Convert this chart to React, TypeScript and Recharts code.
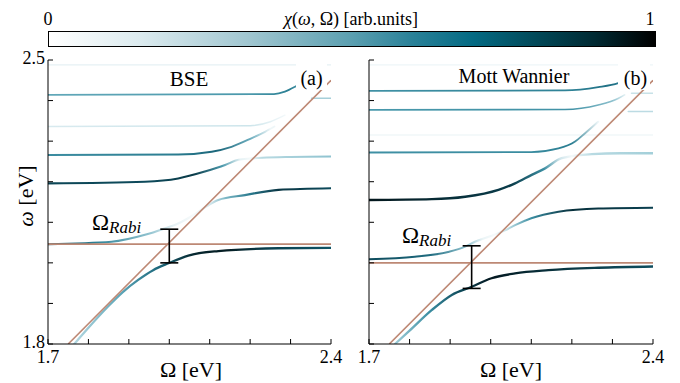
import React from 'react';
import { ComposedChart, Line, XAxis, YAxis, Scatter, ErrorBar } from 'recharts';

// Ω [eV] on x, ω [eV] on y
const X_TICKS = [1.7, 1.8, 1.9, 2.0, 2.1, 2.2, 2.3, 2.4];
const Y_TICKS = [1.8, 1.9, 2.0, 2.1, 2.2, 2.3, 2.4, 2.5];
const X_LABELS = [1.7, 2.4];
const Y_LABELS = [1.8, 2.5];

// bare cavity photon and exciton lines
const PHOTON = [[1.75, 1.8], [2.4, 2.45]];
const EXCITON_A = [[1.7, 2.046], [2.4, 2.046]];
const EXCITON_B = [[1.7, 2.0], [2.4, 2.0]];

// Rabi splitting bars: [Ω, ω low, ω high]
const RABI_A = [2.0, 2.0, 2.083];
const RABI_B = [1.953, 1.937, 2.042];

// panel (a) BSE branches
const A_LP = [[1.765, 1.8], [1.8, 1.84], [1.849, 1.893], [1.885, 1.928], [1.923, 1.958], [1.96, 1.982], [1.998, 1.999], [2.047, 2.018], [2.121, 2.029], [2.27, 2.036], [2.4, 2.037]];
const A_UP1 = [[1.7, 2.046], [1.857, 2.052], [1.94, 2.069], [1.989, 2.085], [2.022, 2.097], [2.06, 2.118], [2.09, 2.138], [2.121, 2.155], [2.187, 2.167], [2.27, 2.18], [2.4, 2.184]];
const A_UP2 = [[1.7, 2.196], [1.94, 2.2], [2.022, 2.208], [2.088, 2.225], [2.138, 2.241], [2.171, 2.254], [2.2, 2.257], [2.23, 2.259], [2.3, 2.261], [2.4, 2.262]];
const A_UP3 = [[1.7, 2.266], [2.022, 2.267], [2.105, 2.274], [2.154, 2.286], [2.203, 2.307], [2.237, 2.323], [2.26, 2.336]];
const A_D1 = [[1.7, 2.336], [2.2, 2.338], [2.25, 2.348], [2.286, 2.364]];
const A_UP4 = [[1.7, 2.414], [2.259, 2.416], [2.286, 2.422], [2.311, 2.434], [2.33, 2.445]];
const A_TOP = [[1.7, 2.488], [2.4, 2.488]];
const A_R1 = [[2.352, 2.406], [2.4, 2.406]];

// panel (b) Mott Wannier branches
const B_LP = [[1.764, 1.8], [1.8, 1.833], [1.855, 1.884], [1.904, 1.921], [1.953, 1.941], [2.002, 1.962], [2.06, 1.974], [2.142, 1.982], [2.265, 1.988], [2.4, 1.991]];
const B_UP1 = [[1.7, 2.009], [1.813, 2.015], [1.895, 2.027], [1.937, 2.04], [1.961, 2.052], [2.0, 2.066], [2.035, 2.08], [2.06, 2.093], [2.1, 2.11], [2.167, 2.126], [2.265, 2.134], [2.4, 2.136]];
const B_UP2 = [[1.7, 2.155], [1.855, 2.157], [1.937, 2.163], [2.019, 2.18], [2.06, 2.196], [2.101, 2.217], [2.134, 2.233], [2.175, 2.258], [2.249, 2.268], [2.32, 2.27], [2.4, 2.27]];
const B_UP3 = [[1.7, 2.272], [2.1, 2.273], [2.167, 2.282], [2.208, 2.299], [2.232, 2.319], [2.265, 2.348]];
const B_UP4 = [[1.7, 2.377], [2.183, 2.378], [2.265, 2.389], [2.314, 2.405], [2.33, 2.414]];
const B_UP5 = [[1.7, 2.424], [2.183, 2.425], [2.265, 2.433], [2.314, 2.443], [2.33, 2.449]];
const B_D1 = [[1.7, 2.315], [2.4, 2.315]];
const B_TOP = [[1.7, 2.488], [2.4, 2.488]];
const B_R1 = [[2.347, 2.418], [2.4, 2.418]];
const B_R2 = [[2.339, 2.373], [2.4, 2.373]];

const SERIF = "'Liberation Serif', 'Times New Roman', serif";
const PHOTON_COLOR = '#bd8874';

type Branch = {
  id: string;
  pts: number[][];
  width: number;
  color?: string;
  stops?: [number, string][];
};

const BRANCHES_A: Branch[] = [
  { id: 'aTop', pts: A_TOP, width: 1.4, color: '#e6f1f4' },
  { id: 'aR1', pts: A_R1, width: 1.5, color: '#a6cfd9' },
  { id: 'aD1', pts: A_D1, width: 1.5, stops: [[1.7, '#d8eaef'], [2.2, '#cde5eb'], [2.286, '#f2f8fa']] },
  { id: 'aUp4', pts: A_UP4, width: 1.7, stops: [[1.7, '#62a8b9'], [2.2, '#4a98ab'], [2.3, '#2b7f93'], [2.33, '#5aa3b5']] },
  { id: 'aUp3', pts: A_UP3, width: 1.9, stops: [[1.7, '#3c8da1'], [2.0, '#2c7e92'], [2.12, '#1b667a'], [2.2, '#6aacbd'], [2.25, '#eef6f8']] },
  { id: 'aUp2', pts: A_UP2, width: 2.1, stops: [[1.7, '#0c4656'], [1.95, '#0d4a5b'], [2.06, '#0a3a48'], [2.13, '#4a98ab'], [2.175, '#e4f1f4'], [2.2, '#f4f9fa'], [2.23, '#b8dae2'], [2.4, '#8fc3d0']] },
  { id: 'aUp1', pts: A_UP1, width: 2.1, stops: [[1.7, '#0e4d5e'], [1.82, '#2f8296'], [1.95, '#8fc2cf'], [2.01, '#e6f1f4'], [2.06, '#f6fafb'], [2.1, '#d5e8ed'], [2.14, '#7ab6c5'], [2.2, '#2a7a8e'], [2.27, '#0a3644'], [2.4, '#0d4a5b']] },
  { id: 'aLp', pts: A_LP, width: 2.3, stops: [[1.765, '#b3d7e0'], [1.88, '#5ea6b8'], [1.97, '#1d6a7e'], [2.06, '#062830'], [2.14, '#041c22'], [2.25, '#0b4150'], [2.4, '#0f5466']] },
];

const BRANCHES_B: Branch[] = [
  { id: 'bTop', pts: B_TOP, width: 1.4, color: '#eef6f8' },
  { id: 'bD1', pts: B_D1, width: 1.4, color: '#f0f7f9' },
  { id: 'bR1', pts: B_R1, width: 1.5, color: '#c8e2e8' },
  { id: 'bR2', pts: B_R2, width: 1.5, color: '#bcdbe3' },
  { id: 'bUp5', pts: B_UP5, width: 1.7, stops: [[1.7, '#4091a5'], [2.2, '#2f8296'], [2.3, '#1f6f84'], [2.33, '#3a8ca0']] },
  { id: 'bUp4', pts: B_UP4, width: 1.7, stops: [[1.7, '#4898ab'], [2.2, '#4292a6'], [2.3, '#8cc0cd'], [2.33, '#e0eff3']] },
  { id: 'bUp3', pts: B_UP3, width: 1.9, stops: [[1.7, '#3f90a4'], [2.1, '#3a8ca0'], [2.2, '#2a7d91'], [2.265, '#eef6f8']] },
  { id: 'bUp2', pts: B_UP2, width: 2.4, stops: [[1.7, '#03161c'], [1.9, '#072f3a'], [2.05, '#0a3c4a'], [2.13, '#3a8ca0'], [2.17, '#cfe5eb'], [2.2, '#f4f9fa'], [2.25, '#b8dae2'], [2.4, '#a3cfd9']] },
  { id: 'bUp1', pts: B_UP1, width: 2.1, stops: [[1.7, '#0d4a5b'], [1.85, '#1f6b7f'], [1.94, '#8fc2cf'], [1.98, '#eaf4f6'], [2.01, '#f6fafb'], [2.04, '#c4e0e7'], [2.1, '#3b8ea2'], [2.2, '#07303c'], [2.4, '#0b4050']] },
  { id: 'bLp', pts: B_LP, width: 2.3, stops: [[1.764, '#9fcdd8'], [1.85, '#3a8da1'], [1.93, '#0c4656'], [2.0, '#031820'], [2.1, '#062a34'], [2.25, '#0b3e4c'], [2.4, '#0e4d5e']] },
];

const toData = (pts: number[][]) => pts.map(([x, y]) => ({ x, y }));
const near = (list: number[], v: number) => list.some((l) => Math.abs(l - v) < 1e-6);

const NoTick = () => <g />;

const XTick = (props: any) => {
  const { x, y, payload } = props;
  if (!near(X_LABELS, payload.value)) return <g />;
  return (
    <text x={x} y={y + 24} textAnchor="middle" fontSize={18} style={{ fontFamily: SERIF }} fill="#000">
      {payload.value.toFixed(1)}
    </text>
  );
};

const YTick = (props: any) => {
  const { x, y, payload } = props;
  if (!near(Y_LABELS, payload.value)) return <g />;
  return (
    <text x={x - 8} y={y + 4} textAnchor="end" fontSize={18} style={{ fontFamily: SERIF }} fill="#000">
      {payload.value.toFixed(1)}
    </text>
  );
};

type PanelProps = {
  left: number;
  width: number;
  yWidth: number;
  right: number;
  branches: Branch[];
  exciton: number[][];
  rabi: number[];
  yLabels: boolean;
};

const Panel = ({ left, width, yWidth, right, branches, exciton, rabi, yLabels }: PanelProps) => {
  const rabiData = [{ x: rabi[0], y: (rabi[1] + rabi[2]) / 2, err: (rabi[2] - rabi[1]) / 2 }];
  const axisProps = { type: 'number' as const, allowDataOverflow: true, stroke: '#000', tickSize: -5 };
  return (
    <div style={{ position: 'absolute', left, top: 0 }}>
      <ComposedChart width={width} height={383} margin={{ top: 60, right, bottom: 0, left: 0 }} style={{ fontFamily: SERIF }}>
        <defs>
          {branches.filter((b) => b.stops).map((b) => {
            const xs = b.pts.map((p) => p[0]);
            const lo = Math.min(...xs);
            const hi = Math.max(...xs);
            return (
              <linearGradient key={b.id} id={b.id} x1="0" y1="0" x2="1" y2="0">
                {b.stops!.map(([v, c], i) => (
                  <stop key={i} offset={Math.max(0, Math.min(1, (v - lo) / (hi - lo)))} stopColor={c} />
                ))}
              </linearGradient>
            );
          })}
        </defs>
        <XAxis xAxisId="b" dataKey="x" domain={[1.7, 2.4]} ticks={X_TICKS} height={39} tick={<XTick />} tickMargin={0} {...axisProps} />
        <XAxis xAxisId="t" orientation="top" dataKey="x" domain={[1.7, 2.4]} ticks={X_TICKS} height={0} tick={<NoTick />} {...axisProps} />
        <YAxis yAxisId="l" dataKey="y" domain={[1.8, 2.5]} ticks={Y_TICKS} width={yWidth} tick={yLabels ? <YTick /> : <NoTick />} tickMargin={0} {...axisProps} />
        <YAxis yAxisId="r" orientation="right" dataKey="y" domain={[1.8, 2.5]} ticks={Y_TICKS} width={0} tick={<NoTick />} {...axisProps} />
        {branches.map((b) => (
          <Line
            key={b.id}
            data={toData(b.pts)}
            dataKey="y"
            xAxisId="b"
            yAxisId="l"
            type="monotone"
            stroke={b.color ?? `url(#${b.id})`}
            strokeWidth={b.width}
            strokeLinecap="round"
            dot={false}
            activeDot={false}
            isAnimationActive={false}
          />
        ))}
        <Line data={toData(exciton)} dataKey="y" xAxisId="b" yAxisId="l" type="linear" stroke={PHOTON_COLOR} strokeWidth={1.8} dot={false} activeDot={false} isAnimationActive={false} />
        <Line data={toData(PHOTON)} dataKey="y" xAxisId="b" yAxisId="l" type="linear" stroke={PHOTON_COLOR} strokeWidth={1.6} dot={false} activeDot={false} isAnimationActive={false} />
        <Scatter data={rabiData} dataKey="y" xAxisId="b" yAxisId="l" fill="transparent" isAnimationActive={false}>
          <ErrorBar dataKey="err" direction="y" width={9} stroke="#000" strokeWidth={1.6} isAnimationActive={false} />
        </Scatter>
      </ComposedChart>
    </div>
  );
};

// HTML label placed by its baseline
const Lbl = ({ x, y, size, center = true, children, style }: any) => (
  <div
    style={{
      position: 'absolute',
      left: x,
      top: y - 0.84 * size,
      fontSize: size,
      lineHeight: `${size}px`,
      fontFamily: SERIF,
      color: '#000',
      whiteSpace: 'nowrap',
      transform: center ? 'translateX(-50%)' : undefined,
      ...style,
    }}
  >
    {children}
  </div>
);

const Rabi = ({ x, y }: { x: number; y: number }) => (
  <Lbl x={x} y={y} size={23} center={false}>
    Ω<span style={{ fontSize: 17, fontStyle: 'italic', position: 'relative', top: 3 }}>Rabi</span>
  </Lbl>
);

const CBAR = 'linear-gradient(to right, #ffffff 0%, #dcebef 15%, #a0c6d0 33%, #5b9fb0 50%, #2a8198 60%, #046a83 70%, #024a5a 80%, #012a33 90%, #000000 100%)';

export default function App() {
  return (
    <div style={{ position: 'absolute', left: 0, top: 0, width: 680, height: 383, background: '#fff', fontFamily: SERIF }}>
      <Panel left={0} width={350} yWidth={48} right={19} branches={BRANCHES_A} exciton={EXCITON_A} rabi={RABI_A} yLabels />
      <Panel left={340} width={340} yWidth={29} right={27} branches={BRANCHES_B} exciton={EXCITON_B} rabi={RABI_B} yLabels={false} />

      <div style={{ position: 'absolute', left: 47.5, top: 31, width: 606, height: 14, border: '1px solid #000', background: CBAR }} />
      <Lbl x={48} y={25} size={18}>0</Lbl>
      <Lbl x={650} y={25} size={18}>1</Lbl>
      <Lbl x={351} y={25} size={18}>
        <i>χ</i>(<i>ω</i>, Ω) [arb.units]
      </Lbl>

      <div style={{ position: 'absolute', left: 296, top: 64, width: 31, height: 26, background: '#fff' }} />
      <div style={{ position: 'absolute', left: 618, top: 64, width: 32, height: 26, background: '#fff' }} />
      <Lbl x={189} y={87} size={21}>BSE</Lbl>
      <Lbl x={311.5} y={85} size={20}>(a)</Lbl>
      <Lbl x={514} y={83} size={20}>Mott Wannier</Lbl>
      <Lbl x={635.5} y={85} size={20}>(b)</Lbl>

      <Rabi x={92} y={230} />
      <Rabi x={402} y={243} />

      <Lbl x={191} y={377} size={22}>Ω [eV]</Lbl>
      <Lbl x={511} y={377} size={22}>Ω [eV]</Lbl>
      <div
        style={{
          position: 'absolute',
          left: 26,
          top: 196,
          fontSize: 22,
          lineHeight: '22px',
          fontFamily: SERIF,
          whiteSpace: 'nowrap',
          transform: 'translate(-50%, -50%) rotate(-90deg)',
        }}
      >
        <i>ω</i> [eV]
      </div>
    </div>
  );
}
